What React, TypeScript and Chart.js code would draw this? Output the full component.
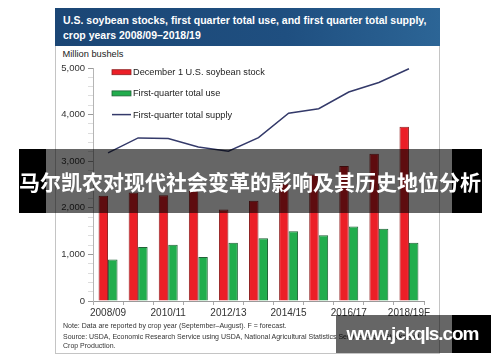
import React, { useEffect, useRef } from "react";
import { Chart, registerables } from "chart.js";

Chart.register(...registerables);

const categories = [
  "2008/09", "2009/10", "2010/11", "2011/12", "2012/13", "2013/14",
  "2014/15", "2015/16", "2016/17", "2017/18", "2018/19F",
];
const decemberStocks = [2260, 2330, 2270, 2360, 1966, 2150, 2520, 2715, 2899, 3160, 3740];
const firstQuarterUse = [890, 1160, 1205, 942, 1248, 1349, 1499, 1413, 1600, 1548, 1248];
const firstQuarterSupply = [3180, 3500, 3485, 3305, 3215, 3505, 4030, 4125, 4485, 4690, 4985];
const seriesLabels = [
  "December 1 U.S. soybean stock",
  "First-quarter total use",
  "First-quarter total supply",
];
const titleLines = [
  "U.S. soybean stocks, first quarter total use, and first quarter total supply,",
  "crop years 2008/09\u20132018/19",
];
const unitLabel = "Million bushels";
const noteLines = [
  "Note: Data are reported by crop year (September\u2013August). F = forecast.",
  "Source: USDA, Economic Research Service using USDA, National Agricultural Statistics Service, Grain Stocks and",
  "Crop Production.",
];
const bannerText = "马尔凯农对现代社会变革的影响及其历史地位分析";
const watermarkText = "www.jckqls.com";

const FONT = '"Liberation Sans", Arial, Helvetica, sans-serif';

const insideLegend = {
  id: "insideLegend",
  afterDraw(chart: any) {
    const { ctx, chartArea } = chart;
    const x0 = chartArea.left + 19;
    const tx = chartArea.left + 40;
    let y = chartArea.top + 4.2;
    ctx.save();
    ctx.font = `9.2px ${FONT}`;
    ctx.textBaseline = "middle";
    ctx.textAlign = "left";
    chart.data.datasets.forEach((ds: any) => {
      if (ds.type === "line") {
        ctx.strokeStyle = ds.borderColor;
        ctx.lineWidth = 1.5;
        ctx.beginPath();
        ctx.moveTo(x0, y);
        ctx.lineTo(x0 + 19, y);
        ctx.stroke();
      } else {
        ctx.fillStyle = ds.backgroundColor;
        ctx.fillRect(x0, y - 2.5, 19, 5);
        ctx.strokeStyle = ds.borderColor;
        ctx.lineWidth = 0.8;
        ctx.strokeRect(x0, y - 2.5, 19, 5);
      }
      ctx.fillStyle = "#222";
      ctx.fillText(ds.label, tx, y + 0.5);
      y += 21.2;
    });
    ctx.restore();
  },
};

function SoyChart() {
  const ref = useRef<HTMLCanvasElement | null>(null);
  useEffect(() => {
    if (!ref.current) return;
    const chart = new Chart(ref.current, {
      type: "bar",
      data: {
        labels: categories,
        datasets: [
          {
            type: "bar",
            label: seriesLabels[0],
            data: decemberStocks,
            backgroundColor: "#ec1f27",
            borderColor: "#8e2020",
            borderWidth: 1,
            categoryPercentage: 0.63,
            barPercentage: 1.0,
            order: 1,
          },
          {
            type: "bar",
            label: seriesLabels[1],
            data: firstQuarterUse,
            backgroundColor: "#21ad4d",
            borderColor: "#1f6236",
            borderWidth: 1,
            categoryPercentage: 0.63,
            barPercentage: 1.0,
            order: 1,
          },
          {
            type: "line",
            label: seriesLabels[2],
            data: firstQuarterSupply,
            borderColor: "#343a6a",
            backgroundColor: "#343a6a",
            borderWidth: 1.5,
            pointRadius: 0,
            tension: 0,
            fill: false,
            order: 0,
          },
        ] as any,
      },
      options: {
        animation: false,
        responsive: false,
        maintainAspectRatio: false,
        layout: { padding: { top: 20, right: 14, left: 0, bottom: 0 } },
        plugins: {
          legend: { display: false },
          tooltip: { enabled: false },
          title: { display: false },
        },
        scales: {
          x: {
            offset: true,
            grid: {
              offset: true,
              drawOnChartArea: false,
              drawTicks: true,
              tickLength: 4,
              color: "#aaa",
            },
            border: { display: true, color: "#9a9a9a", width: 1 },
            ticks: {
              autoSkip: false,
              maxRotation: 0,
              minRotation: 0,
              padding: 2,
              color: "#333",
              font: { size: 10, family: FONT },
              callback: (_v: any, i: number) => (i % 2 === 0 ? categories[i] : ""),
            },
            afterFit: (s: any) => {
              s.height = 21;
            },
          },
          y: {
            min: 0,
            max: 5000,
            ticks: {
              stepSize: 200,
              autoSkip: false,
              padding: 3,
              color: "#333",
              font: { size: 9.5, family: FONT },
              callback: (v: any) =>
                Number(v) % 1000 === 0 ? Number(v).toLocaleString("en-US") : "",
            },
            grid: {
              drawOnChartArea: false,
              drawTicks: true,
              tickLength: 5,
              color: (c: any) =>
                c.tick && c.tick.value % 1000 === 0 ? "#9a9a9a" : "#dddddd",
            },
            border: { display: true, color: "#b5b5b5" },
            afterFit: (s: any) => {
              s.width = 37;
            },
          },
        },
      },
      plugins: [insideLegend],
    } as any);
    return () => chart.destroy();
  }, []);
  return (
    <canvas
      ref={ref}
      width={382}
      height={274}
      style={{ width: 382, height: 274, display: "block" }}
    />
  );
}

export default function App() {
  return (
    <div
      style={{
        position: "absolute",
        left: 0,
        top: 0,
        width: 500,
        height: 362,
        background: "#fff",
        overflow: "hidden",
        fontFamily: FONT,
      }}
    >
      {/* card */}
      <div
        style={{
          position: "absolute",
          left: 55,
          top: 8,
          width: 385,
          height: 346,
          boxSizing: "border-box",
          border: "1px solid #c4c4c4",
          background: "#fff",
        }}
      />
      {/* header */}
      <div
        style={{
          position: "absolute",
          left: 55,
          top: 8,
          width: 385,
          height: 38,
          background: "linear-gradient(90deg, #1b4675 0%, #1f4f80 60%, #2c6596 100%)",
        }}
      />
      <div
        style={{
          position: "absolute",
          left: 63,
          top: 13,
          width: 372,
          color: "#fff",
          fontWeight: 700,
          fontSize: 10.5,
          lineHeight: "15px",
          whiteSpace: "nowrap",
        }}
      >
        {titleLines.map((t, i) => (
          <div key={i}>{t}</div>
        ))}
      </div>
      <div
        style={{
          position: "absolute",
          left: 62.5,
          top: 48.4,
          fontSize: 9.3,
          lineHeight: "12px",
          color: "#222",
          whiteSpace: "nowrap",
        }}
      >
        {unitLabel}
      </div>
      {/* chart */}
      <div style={{ position: "absolute", left: 56, top: 48, width: 382, height: 274 }}>
        <SoyChart />
      </div>
      {/* notes */}
      {noteLines.map((t, i) => (
        <div
          key={i}
          style={{
            position: "absolute",
            left: 63,
            top: [321.3, 332.3, 340.9][i],
            fontSize: 7,
            lineHeight: "9px",
            color: "#333",
            whiteSpace: "nowrap",
          }}
        >
          {t}
        </div>
      ))}
      {/* overlay banner */}
      <div
        style={{
          position: "absolute",
          left: 19,
          top: 149,
          width: 27,
          height: 64,
          background: "#000",
        }}
      />
      <div
        style={{
          position: "absolute",
          left: 46,
          top: 149,
          width: 406,
          height: 64,
          background: "rgba(0,0,0,0.6)",
        }}
      />
      <div
        style={{
          position: "absolute",
          left: 452,
          top: 149,
          width: 30,
          height: 64,
          background: "#000",
        }}
      />
      <div
        style={{
          position: "absolute",
          left: 0,
          top: 149,
          width: 500,
          height: 64,
          display: "flex",
          alignItems: "center",
          justifyContent: "center",
          color: "#fff",
          fontFamily: '"Noto Sans CJK SC", sans-serif',
          fontWeight: 700,
          fontSize: 21,
          whiteSpace: "nowrap",
        }}
      >
        {bannerText}
      </div>
      {/* watermark */}
      <div
        style={{
          position: "absolute",
          left: 336,
          top: 315,
          width: 116,
          height: 38,
          background: "rgba(0,0,0,0.6)",
        }}
      />
      <div
        style={{
          position: "absolute",
          left: 452,
          top: 315,
          width: 39,
          height: 38,
          background: "#000",
        }}
      />
      <div
        style={{
          position: "absolute",
          left: 346.5,
          top: 315,
          height: 38,
          lineHeight: "38px",
          color: "#fff",
          fontWeight: 700,
          fontSize: 19,
          letterSpacing: -1.1,
          whiteSpace: "nowrap",
        }}
      >
        {watermarkText}
      </div>
    </div>
  );
}
